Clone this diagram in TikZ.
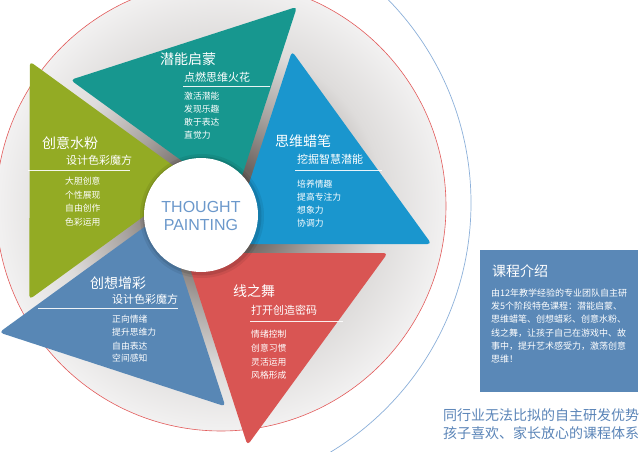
\documentclass[tikz,border=0pt]{standalone}
\usepackage{fontspec}
\newfontfamily\cjk{Noto Sans CJK SC}
\newfontfamily\latsans{Liberation Sans}
\usetikzlibrary{calc}
\definecolor{tealc}{HTML}{17978F}
\definecolor{bluec}{HTML}{1A96CE}
\definecolor{redc}{HTML}{D95553}
\definecolor{steelc}{HTML}{5887B5}
\definecolor{greenc}{HTML}{93AB24}
\definecolor{boxc}{HTML}{5A88B7}
\definecolor{botc}{HTML}{5B85B8}
\definecolor{tpc}{HTML}{6B98CB}
\definecolor{redline}{HTML}{E35B5B}
\definecolor{blueline}{HTML}{8CB0DA}
\definecolor{haloA}{RGB}{108,99,95}
\definecolor{haloB}{RGB}{168,163,160}
\definecolor{haloC}{RGB}{222,220,219}
\definecolor{haloD}{RGB}{242,241,241}
\pgfdeclareradialshading{halo}{\pgfpointorigin}{color(0bp)=(haloA); color(5bp)=(haloA); color(11bp)=(haloB); color(18bp)=(haloC); color(25bp)=(haloD); color(50bp)=(haloD)}
\begin{document}
\begin{tikzpicture}[x=1pt,y=-1pt,
  ttl/.style={anchor=west, inner sep=0, text=white, font=\cjk\fontsize{14}{14}\selectfont},
  subt/.style={anchor=west, inner sep=0, text=white, font=\cjk\fontsize{11}{11}\selectfont},
  itm/.style={anchor=west, inner sep=0, text=white, font=\cjk\fontsize{8.8}{8.8}\selectfont},
  rulel/.style={white, line width=0.7pt, opacity=0.9},
  body/.style={anchor=west, inner sep=0, text=white, font=\cjk\fontsize{9}{9}\selectfont},
  bot/.style={anchor=west, inner sep=0, text=botc, font=\cjk\fontsize{14}{14}\selectfont}]
\useasboundingbox (0,0) rectangle (640,452);
\clip (0,0) rectangle (640,452);
\fill[white] (0,0) rectangle (640,452);
% halo and rings
\shade[shading=halo] (221,206) circle (225pt);
\draw[redline, line width=0.6pt] (221,206) circle (225pt);
\begin{scope}
  \clip (230,0) rectangle (640,452);
  \draw[blueline, line width=0.7pt] (180,203) circle (291pt);
\end{scope}
\coordinate (C) at (201,218);
% triangles
\foreach \k/\col in {0/tealc,1/bluec,2/redc,3/steelc,4/greenc}{
  \fill[\col, rounded corners=4pt]
    ($(C)+({72*\k-65.56}:232)$) -- ($(C)+({72*\k-133.38}:190)$)
    -- ($(C)+({72*\k-29.48}:38.47)$) -- cycle;
}
% teal texts
\node[ttl] (t1) at (160,59) {潜能启蒙};
\node[subt] (t2) at (184,77) {点燃思维火花};
\draw[rulel] (183,86) -- (270,86);
\node[itm] (t3) at (184,95.7) {激活潜能};
\node[itm] (t4) at (184,109) {发现乐趣};
\node[itm] (t5) at (184,122) {敢于表达};
\node[itm] (t6) at (184,135) {直觉力};
% blue texts
\node[ttl] (b1) at (275,141) {思维蜡笔};
\node[subt] (b2) at (297,159) {挖掘智慧潜能};
\draw[rulel] (295,170) -- (382,170);
\node[itm] (b3) at (297,184) {培养情趣};
\node[itm] (b4) at (297,197) {提高专注力};
\node[itm] (b5) at (297,210) {想象力};
\node[itm] (b6) at (297,223) {协调力};
% green texts
\node[ttl] (g1) at (42,143) {创意水粉};
\node[subt] (g2) at (66,160) {设计色彩魔方};
\draw[rulel] (28,170) -- (130,170);
\node[itm] (g3) at (65,181) {大胆创意};
\node[itm] (g4) at (65,195) {个性展现};
\node[itm] (g5) at (65,208) {自由创作};
\node[itm] (g6) at (65,222) {色彩运用};
% steel texts
\node[ttl] (s1) at (90,283) {创想增彩};
\node[subt] (s2) at (112,299.5) {设计色彩魔方};
\draw[rulel] (38,308) -- (178,308);
\node[itm] (s3) at (112,319) {正向情绪};
\node[itm] (s4) at (112,332) {提升思维力};
\node[itm] (s5) at (112,346) {自由表达};
\node[itm] (s6) at (112,358) {空间感知};
% red texts
\node[ttl] (r1) at (233,291) {线之舞};
\node[subt] (r2) at (251,310) {打开创造密码};
\draw[rulel] (250,321) -- (343,321);
\node[itm] (r3) at (251,334) {情绪控制};
\node[itm] (r4) at (251,348) {创意习惯};
\node[itm] (r5) at (251,362) {灵活运用};
\node[itm] (r6) at (251,375) {风格形成};
% hub
\fill[black, opacity=0.07] (202,216) circle (62pt);
\fill[black, opacity=0.10] (202,216) circle (59.5pt);
\node[circle, fill=white, minimum size=114pt, inner sep=0] (hub) at (201,215) {};
\node[inner sep=0, align=center, text=tpc, font=\latsans\fontsize{16}{18.5}\selectfont] (tp) at (201,215.75) {THOUGHT\\PAINTING};
% course box
\node[fill=boxc, minimum width=158pt, minimum height=142pt, inner sep=0, anchor=north west] (box) at (480,250) {};
\node[ttl] (ct) at (492,271.5) {课程介绍};
\node[body] (l1) at (491,292.7) {由12年教学经验的专业团队自主研};
\node[body] (l2) at (491,306) {发5个阶段特色课程：潜能启蒙、};
\node[body] (l3) at (491,319.5) {思维蜡笔、创想蜡彩、创意水粉、};
\node[body] (l4) at (491,333) {线之舞，让孩子自己在游戏中、故};
\node[body] (l5) at (491,346.5) {事中，提升艺术感受力，激荡创意};
\node[body] (l6) at (491,359.5) {思维！};
% bottom text
\node[bot] (m1) at (443,415) {同行业无法比拟的自主研发优势};
\node[bot] (m2) at (443,433) {孩子喜欢、家长放心的课程体系};
\end{tikzpicture}
\end{document}
